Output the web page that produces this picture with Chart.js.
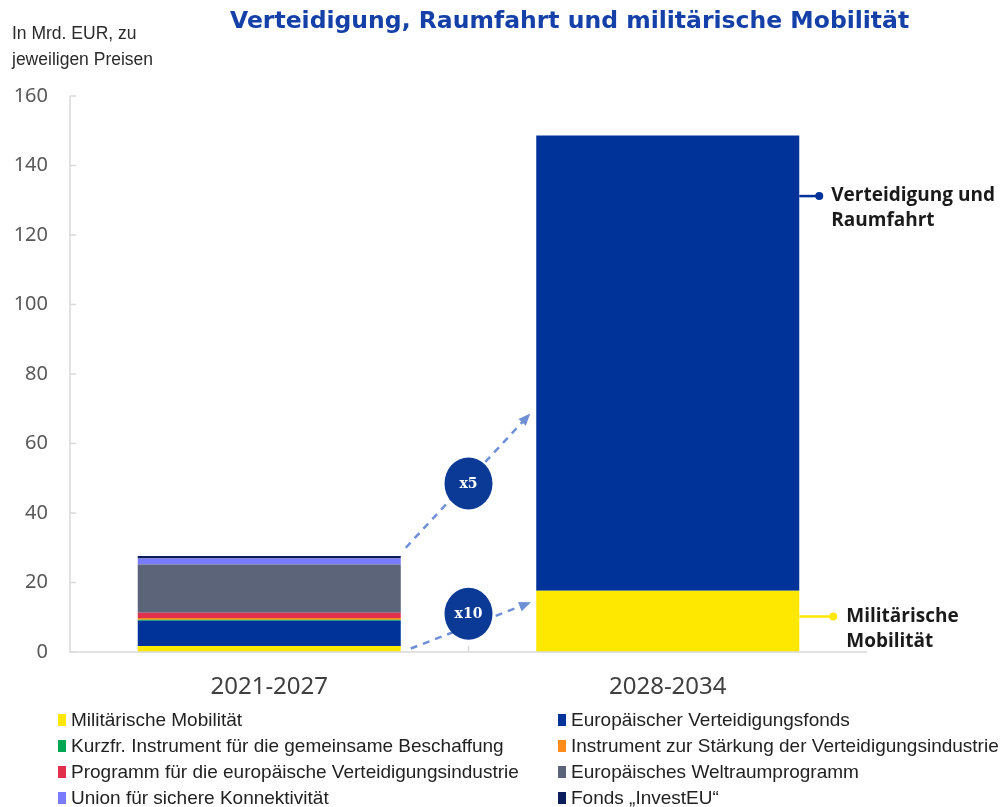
<!DOCTYPE html>
<html>
<head>
<meta charset="utf-8">
<script src="https://cdn.jsdelivr.net/npm/chart.js@4/dist/chart.umd.min.js"></script>
<style>
  html, body { margin: 0; padding: 0; background: #fff; }
  #wrap { width: 1005px; height: 807px; position: relative; }
</style>
</head>
<body>
<div id="wrap"><canvas id="chart" width="1005" height="807"></canvas></div>
<script>
// Data
const periods = ["2021-2027", "2028-2034"];
const yTicks = [0, 20, 40, 60, 80, 100, 120, 140, 160];

const milMobility = [1.7, 17.65];
const edf = [7.3, 0];
const edirpa = [0.3, 0];
const asap = [0.5, 0];
const edip = [1.5, 0];
const spaceProg = [13.9, 0];
const iris = [1.7, 0];
const investEU = [0.7, 0];
const defenceSpace = [0, 131];

const seriesNames = [
  "Militärische Mobilität",
  "Europäischer Verteidigungsfonds",
  "Kurzfr. Instrument für die gemeinsame Beschaffung",
  "Instrument zur Stärkung der Verteidigungsindustrie",
  "Programm für die europäische Verteidigungsindustrie",
  "Europäisches Weltraumprogramm",
  "Union für sichere Konnektivität",
  "Fonds „InvestEU“"
];
const seriesColours = ["#ffe800", "#003399", "#00a651", "#ff8c1a", "#e0304e", "#5b6478", "#7b7bff", "#0b1e5b"];
const seriesValues = [milMobility, edf, edirpa, asap, edip, spaceProg, iris, investEU];

const datasets = seriesNames.map((name, i) => ({
  label: name,
  data: seriesValues[i],
  backgroundColor: seriesColours[i],
  borderWidth: 0,
  barPercentage: 0.66,
  categoryPercentage: 1
}));
// new heading for 2028-2034 sits on top of military mobility
datasets.splice(1, 0, {
  label: "Verteidigung und Raumfahrt",
  data: defenceSpace,
  backgroundColor: "#003399",
  borderWidth: 0,
  barPercentage: 0.66,
  categoryPercentage: 1
});

const AXIS_GREY = "#d9d9d9";
const CIRCLE_BLUE = "#0a3a96";
const ARROW_BLUE = "#6f8fd6";

function arrowLine(ctx, x1, y1, x2, y2) {
  ctx.save();
  ctx.strokeStyle = ARROW_BLUE;
  ctx.lineWidth = 2.5;
  ctx.setLineDash([7, 6]);
  ctx.beginPath();
  ctx.moveTo(x1, y1);
  ctx.lineTo(x2, y2);
  ctx.stroke();
  ctx.setLineDash([]);
  const a = Math.atan2(y2 - y1, x2 - x1);
  ctx.fillStyle = ARROW_BLUE;
  ctx.beginPath();
  ctx.moveTo(x2 + 3 * Math.cos(a), y2 + 3 * Math.sin(a));
  ctx.lineTo(x2 - 9 * Math.cos(a) + 5 * Math.sin(a), y2 - 9 * Math.sin(a) - 5 * Math.cos(a));
  ctx.lineTo(x2 - 9 * Math.cos(a) - 5 * Math.sin(a), y2 - 9 * Math.sin(a) + 5 * Math.cos(a));
  ctx.closePath();
  ctx.fill();
  ctx.restore();
}

function badge(ctx, x, y, text) {
  ctx.save();
  ctx.fillStyle = CIRCLE_BLUE;
  ctx.beginPath();
  ctx.ellipse(x, y, 24, 26, 0, 0, Math.PI * 2);
  ctx.fill();
  ctx.fillStyle = "#fff";
  ctx.font = "bold 14px 'DejaVu Serif'";
  ctx.textAlign = "center";
  ctx.textBaseline = "middle";
  ctx.fillText(text, x, y + 1);
  ctx.restore();
}

const extras = {
  id: "extras",
  afterDraw(chart) {
    const ctx = chart.ctx;
    const ys = chart.scales.y;
    const area = chart.chartArea;

    // axes
    ctx.save();
    ctx.strokeStyle = AXIS_GREY;
    ctx.lineWidth = 1.5;
    ctx.beginPath();
    ctx.moveTo(area.left, area.top);
    ctx.lineTo(area.left, area.bottom);
    ctx.lineTo(area.right, area.bottom);
    ctx.stroke();
    yTicks.forEach(v => {
      const y = ys.getPixelForValue(v);
      ctx.beginPath();
      ctx.moveTo(area.left, y);
      ctx.lineTo(area.left + 6, y);
      ctx.stroke();
    });
    const midX = (area.left + area.right) / 2;
    ctx.beginPath();
    ctx.moveTo(midX, area.bottom);
    ctx.lineTo(midX, area.bottom - 6);
    ctx.stroke();
    ctx.restore();

    // title + axis caption
    ctx.save();
    ctx.fillStyle = "#1440a8";
    ctx.font = "bold 23.5px 'DejaVu Sans'";
    ctx.textBaseline = "middle";
    ctx.fillText("Verteidigung, Raumfahrt und militärische Mobilität", 230, 22);
    ctx.fillStyle = "#2b2b2b";
    ctx.font = "17.5px 'Liberation Sans'";
    ctx.fillText("In Mrd. EUR, zu", 12, 34);
    ctx.fillText("jeweiligen Preisen", 12, 60);
    ctx.restore();

    // growth arrows and badges
    const meta0 = chart.getDatasetMeta(0);
    const left = meta0.data[0];
    const right = meta0.data[1];
    const lRight = left.x + left.width / 2;
    const rLeft = right.x - right.width / 2;
    const rRight = right.x + right.width / 2;
    arrowLine(ctx, lRight + 5, ys.getPixelForValue(30), rLeft - 8, ys.getPixelForValue(68));
    arrowLine(ctx, lRight + 10, ys.getPixelForValue(1), rLeft - 8, ys.getPixelForValue(14));
    badge(ctx, midX, ys.getPixelForValue(48.5), "x5");
    badge(ctx, midX, ys.getPixelForValue(11), "x10");

    // right-hand labels
    ctx.save();
    ctx.lineWidth = 2.5;
    let y = ys.getPixelForValue(131.2);
    ctx.strokeStyle = "#003399";
    ctx.fillStyle = "#003399";
    ctx.beginPath(); ctx.moveTo(rRight, y); ctx.lineTo(rRight + 20, y); ctx.stroke();
    ctx.beginPath(); ctx.arc(rRight + 20, y, 4, 0, Math.PI * 2); ctx.fill();
    ctx.fillStyle = "#1a1a1a";
    ctx.font = "bold 19px 'Open Sans'";
    ctx.textBaseline = "middle";
    ctx.fillText("Verteidigung und", rRight + 32, y);
    ctx.fillText("Raumfahrt", rRight + 32, y + 25);

    y = ys.getPixelForValue(10.2);
    ctx.strokeStyle = "#ffe800";
    ctx.fillStyle = "#ffe800";
    ctx.beginPath(); ctx.moveTo(rRight, y); ctx.lineTo(rRight + 34, y); ctx.stroke();
    ctx.beginPath(); ctx.arc(rRight + 34, y, 4, 0, Math.PI * 2); ctx.fill();
    ctx.fillStyle = "#1a1a1a";
    ctx.fillText("Militärische", rRight + 47, y);
    ctx.fillText("Mobilität", rRight + 47, y + 25);
    ctx.restore();

    // legend, two columns
    ctx.save();
    ctx.font = "19px 'Liberation Sans'";
    ctx.textBaseline = "middle";
    seriesNames.forEach((name, i) => {
      const col = i % 2;
      const row = Math.floor(i / 2);
      const x = col === 0 ? 58 : 558;
      const ly = 720 + row * 26;
      ctx.fillStyle = seriesColours[i];
      ctx.fillRect(x, ly - 6, 8, 12);
      ctx.fillStyle = "#222";
      ctx.fillText(name, x + 13, ly + 1);
    });
    ctx.restore();
  }
};

new Chart(document.getElementById("chart"), {
  type: "bar",
  data: { labels: periods, datasets: datasets },
  options: {
    responsive: false,
    animation: false,
    layout: { padding: { top: 96, right: 138, bottom: 95, left: 0 } },
    plugins: {
      legend: { display: false },
      tooltip: { enabled: false },
      title: { display: false }
    },
    scales: {
      x: {
        stacked: true,
        grid: { display: false },
        border: { display: false },
        ticks: { color: "#404040", font: { family: "Noto Sans", size: 24 }, padding: 13 },
        afterFit(s) { s.height = 60; }
      },
      y: {
        stacked: true,
        min: 0,
        max: 160,
        grid: { display: false },
        border: { display: false },
        afterBuildTicks(s) { s.ticks = yTicks.map(v => ({ value: v })); },
        ticks: { color: "#595959", font: { family: "Noto Sans", size: 20 }, padding: 14 },
        afterFit(s) { s.width = 70; }
      }
    }
  },
  plugins: [extras]
});
</script>
</body>
</html>
